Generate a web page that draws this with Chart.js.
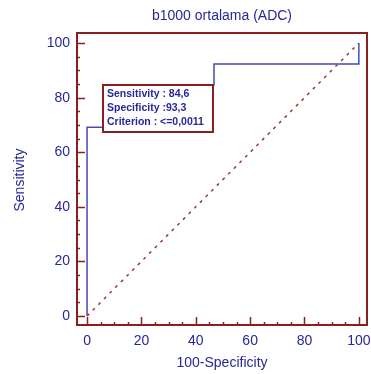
<!DOCTYPE html>
<html>
<head>
<meta charset="utf-8">
<style>
  html, body { margin: 0; padding: 0; background: #fff; }
  #wrap { width: 371px; height: 374px; }
</style>
<script src="https://cdn.jsdelivr.net/npm/chart.js@4/dist/chart.umd.min.js"></script>
</head>
<body>
<div id="wrap"><canvas id="roc" width="371" height="374"></canvas></div>
<script>
const chartTitle = 'b1000 ortalama (ADC)';
const xTitle = '100-Specificity';
const yTitle = 'Sensitivity';

// ROC curve (100-specificity, sensitivity)
const rocX = [0, 0, 6.7, 6.7, 46.7, 46.7, 100, 100];
const rocY = [0, 69.2, 69.2, 84.6, 84.6, 92.3, 92.3, 100];
const diagX = [0, 100];
const diagY = [0, 100];

const criterion = { x: 6.7, y: 84.6 };
const criterionLines = ['Sensitivity : 84,6', 'Specificity :93,3', 'Criterion : <=0,0011'];

const majorTicks = [0, 20, 40, 60, 80, 100];
const minorStep = 5;

const blue = '#4a4ab4';
const textBlue = '#27279a';
const darkRed = '#8a1f1f';
const fontFam = '"Liberation Sans", Arial, sans-serif';

const toPts = (xs, ys) => xs.map((x, i) => ({ x: x, y: ys[i] }));

function allTicks() {
    const t = [];
    for (let v = 0; v <= 100; v += minorStep) t.push({ value: v });
    return t;
}

const framePlugin = {
    id: 'frame',
    afterDatasetsDraw(chart) {
        const { ctx, chartArea: a, scales } = chart;
        ctx.save();
        ctx.strokeStyle = darkRed;
        ctx.lineWidth = 2;
        ctx.strokeRect(a.left, a.top, a.right - a.left, a.bottom - a.top);
        ctx.lineWidth = 1.5;
        for (let v = 0; v <= 100; v += minorStep) {
            const len = majorTicks.includes(v) ? 8 : 3;
            const px = Math.round(scales.x.getPixelForValue(v)) + 0.5;
            ctx.beginPath();
            ctx.moveTo(px, a.bottom);
            ctx.lineTo(px, a.bottom - len);
            ctx.stroke();
            const py = Math.round(scales.y.getPixelForValue(v)) + 0.5;
            ctx.beginPath();
            ctx.moveTo(a.left, py);
            ctx.lineTo(a.left + len, py);
            ctx.stroke();
        }
        // criterion label box
        const bx = Math.round(scales.x.getPixelForValue(criterion.x)) - 2;
        const by = Math.round(scales.y.getPixelForValue(criterion.y));
        ctx.fillStyle = '#fff';
        ctx.fillRect(bx, by, 110, 47);
        ctx.lineWidth = 2;
        ctx.strokeRect(bx, by, 110, 47);
        ctx.fillStyle = textBlue;
        ctx.font = 'bold 10.5px ' + fontFam;
        ctx.textBaseline = 'middle';
        criterionLines.forEach((s, i) => ctx.fillText(s, bx + 4, by + 9 + i * 14));
        // titles
        ctx.font = '14px ' + fontFam;
        ctx.textAlign = 'center';
        ctx.fillText(chartTitle, 222, 16);
        ctx.fillText(xTitle, 222, 363);
        ctx.translate(20, 180);
        ctx.rotate(-Math.PI / 2);
        ctx.fillText(yTitle, 0, 0);
        ctx.restore();
    }
};

new Chart(document.getElementById('roc').getContext('2d'), {
    type: 'scatter',
    data: {
        datasets: [
            {
                data: toPts(rocX, rocY),
                showLine: true,
                borderColor: blue,
                borderWidth: 1.5,
                pointRadius: 0,
                fill: false
            },
            {
                data: toPts(diagX, diagY),
                showLine: true,
                borderColor: '#a03333',
                borderWidth: 1.5,
                borderDash: [3, 5],
                pointRadius: 0,
                fill: false
            }
        ]
    },
    options: {
        responsive: false,
        animation: false,
        layout: { padding: { top: 33, right: 4, left: 0, bottom: 0 } },
        plugins: { legend: { display: false }, tooltip: { enabled: false } },
        scales: {
            x: {
                min: -3.7,
                max: 103.0,
                afterBuildTicks: s => { s.ticks = allTicks(); },
                afterFit: s => { s.height = 49; s.paddingLeft = 0; s.paddingRight = 0; },
                grid: { display: false, drawTicks: false, tickLength: 0 },
                border: { display: false },
                ticks: {
                    color: textBlue,
                    font: { family: fontFam, size: 14 },
                    padding: 8,
                    autoSkip: false,
                    maxRotation: 0,
                    callback: v => majorTicks.includes(v) ? String(v) : ''
                }
            },
            y: {
                min: -3.3,
                max: 103.7,
                afterBuildTicks: s => { s.ticks = allTicks(); },
                afterFit: s => { s.width = 77; s.paddingTop = 0; s.paddingBottom = 0; },
                grid: { display: false, drawTicks: false, tickLength: 0 },
                border: { display: false },
                ticks: {
                    color: textBlue,
                    font: { family: fontFam, size: 14 },
                    padding: 7,
                    autoSkip: false,
                    callback: v => majorTicks.includes(v) ? String(v) : ''
                }
            }
        }
    },
    plugins: [framePlugin]
});
</script>
</body>
</html>
